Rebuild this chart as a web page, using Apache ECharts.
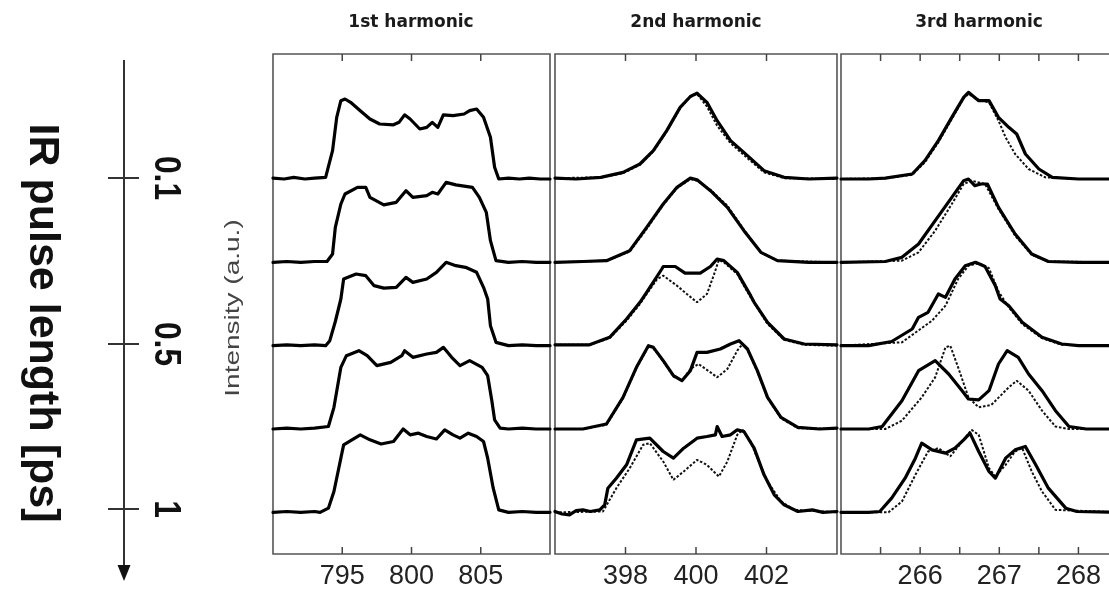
<!DOCTYPE html>
<html><head><meta charset="utf-8">
<script src="https://cdn.jsdelivr.net/npm/echarts@6/dist/echarts.min.js"></script>
<style>html,body{margin:0;padding:0;background:#fff}#c{width:1109px;height:590px}</style>
</head><body><div id="c"></div>
<script>
// ---- data: [wavelength nm, normalized intensity] ----
const H1_T1 = [[790,0.01],[790.8,0.0],[791.5,0.02],[792.3,0.0],[793,0.01],[793.8,0.02],[794.3,0.34],[794.6,0.74],[794.9,0.94],[795.2,0.96],[795.6,0.92],[796.3,0.82],[797.0,0.72],[797.7,0.66],[798.7,0.65],[799.1,0.68],[799.5,0.77],[799.9,0.72],[800.6,0.6],[801.1,0.62],[801.5,0.68],[801.9,0.62],[802.3,0.77],[803.0,0.76],[803.8,0.78],[804.2,0.82],[804.7,0.84],[805.2,0.74],[805.7,0.5],[806.0,0.14],[806.3,0.0],[807,0.01],[807.8,0.0],[808.5,0.01],[809.3,0.0],[810,0.0]];
const H1_T2 = [[790,0],[791,0.01],[792,0],[793,0.01],[793.9,0.01],[794.3,0.1],[794.5,0.42],[794.9,0.7],[795.2,0.82],[796.1,0.9],[796.7,0.9],[797.0,0.78],[798.0,0.69],[798.9,0.72],[799.6,0.86],[800.1,0.78],[801.1,0.8],[801.5,0.84],[801.9,0.82],[802.5,0.96],[803.2,0.93],[804.4,0.9],[804.9,0.78],[805.4,0.6],[805.7,0.26],[806.1,0.02],[807,0],[808,0.01],[809,0],[810,0]];
const H1_T3 = [[790,0],[791,0.01],[792,0],[793,0.01],[793.8,0],[794.1,0.06],[794.5,0.29],[794.9,0.56],[795.1,0.8],[796.0,0.86],[796.7,0.84],[797.3,0.72],[798.0,0.69],[798.9,0.7],[799.6,0.82],[800.1,0.76],[801.1,0.8],[801.8,0.88],[802.5,1.0],[803.2,0.96],[803.9,0.94],[804.7,0.88],[805.2,0.7],[805.5,0.56],[805.7,0.24],[806.1,0.04],[807,0],[808,0.01],[809,0],[810,0]];
const H1_T4 = [[790,0],[791,0.01],[792,0],[793,0.01],[794.0,0.03],[794.4,0.26],[794.9,0.74],[795.3,0.88],[796.2,0.94],[796.8,0.88],[797.5,0.76],[798.5,0.8],[799.3,0.88],[799.5,0.94],[800.1,0.86],[801.1,0.9],[801.8,0.92],[802.3,0.98],[802.9,0.86],[803.5,0.76],[804.2,0.82],[805.1,0.74],[805.5,0.64],[805.8,0.34],[806.0,0.11],[806.4,0.01],[807,0],[808,0.01],[809,0],[810,0]];
const H1_T5 = [[790,0],[791,0.01],[792,0],[793,0.01],[793.4,0],[794.0,0.05],[794.4,0.25],[794.9,0.65],[795.1,0.81],[795.7,0.87],[796.3,0.93],[797.0,0.87],[797.8,0.82],[798.7,0.85],[799.4,1.0],[799.9,0.93],[800.5,0.95],[801.1,0.91],[801.8,0.88],[802.4,0.99],[803.0,0.93],[803.5,0.89],[804.1,0.95],[804.7,0.91],[805.2,0.85],[805.5,0.65],[805.9,0.29],[806.3,0.03],[807,0],[808,0.01],[809,0],[810,0]];

const H2_T1_M = [[396,0.01],[396.6,0],[397.3,0.02],[397.93,0.08],[398.41,0.18],[398.79,0.34],[399.17,0.58],[399.55,0.86],[399.84,0.99],[400.03,1.03],[400.31,0.92],[400.6,0.7],[400.98,0.46],[401.46,0.28],[401.93,0.1],[402.5,0.02],[403.2,0],[404,0.01]];
const H2_T1_S = [[396,0.01],[397.3,0.02],[397.93,0.07],[398.41,0.17],[398.79,0.33],[399.17,0.57],[399.55,0.85],[399.84,0.99],[400.03,1.02],[400.31,0.87],[400.6,0.64],[400.98,0.43],[401.46,0.25],[401.93,0.08],[402.5,0.01],[404,0]];
const H2_T2_M = [[396,0],[396.8,0.01],[397.46,0.02],[398.12,0.14],[398.6,0.42],[399.07,0.7],[399.46,0.9],[399.84,1.01],[400.03,0.99],[400.41,0.86],[400.89,0.66],[401.36,0.38],[401.84,0.12],[402.31,0.02],[403.2,0],[404,0]];
const H2_T2_S = [[396,0],[397.46,0.02],[398.12,0.13],[398.6,0.4],[399.07,0.69],[399.46,0.89],[399.84,1.0],[400.03,0.98],[400.41,0.87],[400.89,0.68],[401.36,0.39],[401.84,0.12],[402.31,0.02],[404,0]];
const H2_T3_M = [[396,0.01],[396.98,0.01],[397.55,0.1],[398.03,0.32],[398.41,0.52],[398.6,0.64],[399.03,0.92],[399.07,0.95],[399.41,0.95],[399.69,0.87],[400.12,0.87],[400.41,0.95],[400.6,1.04],[400.79,1.02],[401.17,0.88],[401.55,0.6],[401.65,0.52],[402.03,0.28],[402.5,0.08],[403.07,0.02],[404,0.01]];
const H2_T3_S = [[396,0.01],[396.98,0.01],[397.55,0.09],[398.03,0.3],[398.41,0.5],[398.6,0.62],[398.9,0.8],[399.07,0.84],[399.46,0.72],[399.74,0.62],[400.03,0.52],[400.31,0.62],[400.5,0.84],[400.65,1.03],[400.79,1.0],[401.17,0.86],[401.55,0.58],[402.03,0.26],[402.5,0.07],[403.07,0.01],[404,0]];
const H2_T4_M = [[396,0],[396.79,0],[397.46,0.06],[397.93,0.38],[398.31,0.74],[398.65,1.0],[398.79,0.98],[399.07,0.82],[399.36,0.64],[399.6,0.58],[399.84,0.7],[400.03,0.92],[400.31,0.92],[400.69,0.96],[400.98,1.02],[401.22,1.06],[401.46,0.96],[401.74,0.7],[402.03,0.38],[402.41,0.14],[402.89,0.02],[403.5,0],[404,0.01]];
const H2_T4_S = [[396,0],[396.79,0],[397.46,0.05],[397.93,0.37],[398.31,0.73],[398.65,0.99],[398.79,0.97],[399.07,0.81],[399.36,0.63],[399.6,0.58],[399.84,0.72],[400.07,0.78],[400.41,0.68],[400.6,0.62],[400.89,0.72],[401.17,0.94],[401.32,1.02],[401.46,0.95],[401.74,0.69],[402.03,0.37],[402.41,0.13],[402.89,0.01],[404,0]];
const H2_T5_M = [[396,0.01],[396.2,-0.02],[396.41,-0.03],[396.6,0.02],[396.79,0.03],[397.0,0.01],[397.27,0.03],[397.41,0.09],[397.5,0.29],[397.74,0.41],[398.03,0.57],[398.31,0.87],[398.69,0.89],[399.07,0.73],[399.36,0.65],[399.65,0.77],[400.03,0.89],[400.31,0.91],[400.55,0.93],[400.6,1.03],[400.74,0.91],[400.98,0.93],[401.17,0.99],[401.36,0.97],[401.65,0.77],[401.93,0.45],[402.22,0.21],[402.5,0.09],[402.89,0.01],[403.3,0.03],[403.6,0],[404,0.01]];
const H2_T5_S = [[396,0],[397.36,0.01],[397.74,0.29],[398.12,0.53],[398.5,0.81],[398.69,0.83],[399.07,0.61],[399.36,0.39],[399.65,0.49],[400.03,0.63],[400.31,0.57],[400.65,0.43],[400.89,0.61],[401.17,0.93],[401.32,0.99],[401.55,0.85],[401.74,0.65],[402.03,0.37],[402.41,0.13],[402.79,0.03],[404,0]];

const H3_T1_M = [[265,0],[265.35,0],[265.56,0.01],[265.9,0.06],[266.06,0.22],[266.23,0.46],[266.4,0.74],[266.55,0.98],[266.61,1.04],[266.74,0.94],[266.87,0.94],[266.99,0.74],[267.12,0.62],[267.22,0.54],[267.33,0.3],[267.5,0.12],[267.67,0.02],[268,0],[268.5,0]];
const H3_T1_S = [[265,0],[265.56,0.01],[265.9,0.05],[266.06,0.2],[266.23,0.44],[266.4,0.72],[266.55,0.97],[266.61,1.02],[266.74,0.95],[266.87,0.92],[266.99,0.7],[267.08,0.5],[267.2,0.3],[267.37,0.12],[267.58,0.02],[268,0],[268.5,0]];
const H3_T2_M = [[265,0],[265.56,0.01],[265.77,0.06],[265.98,0.22],[266.19,0.5],[266.4,0.78],[266.55,0.98],[266.61,1.0],[266.69,0.92],[266.77,0.94],[266.85,0.94],[266.99,0.66],[267.2,0.34],[267.41,0.1],[267.62,0.01],[268,0],[268.5,0]];
const H3_T2_S = [[265,0],[265.77,0.02],[265.98,0.12],[266.19,0.38],[266.4,0.7],[266.55,0.94],[266.65,0.98],[266.82,0.94],[266.99,0.64],[267.2,0.32],[267.41,0.09],[267.62,0.01],[268.5,0]];
const H3_T3_M = [[265,0],[265.35,0],[265.64,0.05],[265.9,0.2],[265.98,0.34],[266.1,0.4],[266.23,0.62],[266.32,0.58],[266.44,0.8],[266.57,0.96],[266.7,1.0],[266.82,0.95],[266.95,0.72],[267.01,0.56],[267.12,0.48],[267.29,0.28],[267.54,0.1],[267.79,0.02],[268,0],[268.5,0]];
const H3_T3_S = [[265,0],[265.77,0.04],[266.15,0.3],[266.32,0.48],[266.48,0.8],[266.61,0.96],[266.74,0.99],[266.87,0.93],[266.99,0.65],[267.12,0.46],[267.29,0.26],[267.54,0.09],[267.79,0.01],[268.5,0]];
const H3_T4_M = [[265,0],[265.35,0],[265.52,0.03],[265.77,0.34],[265.98,0.7],[266.19,0.82],[266.36,0.66],[266.53,0.46],[266.61,0.36],[266.74,0.35],[266.87,0.46],[266.99,0.78],[267.1,0.94],[267.24,0.86],[267.37,0.66],[267.54,0.46],[267.71,0.22],[267.88,0.03],[268.1,0],[268.5,0]];
const H3_T4_S = [[265,0],[265.56,0],[265.77,0.1],[266.02,0.38],[266.19,0.62],[266.32,0.98],[266.38,1.0],[266.48,0.74],[266.61,0.38],[266.74,0.26],[266.9,0.29],[267.12,0.5],[267.22,0.58],[267.37,0.46],[267.54,0.22],[267.71,0.03],[267.88,0],[268.5,0]];
const H3_T5_M = [[265,0],[265.35,0],[265.49,0.01],[265.64,0.17],[265.81,0.41],[265.94,0.65],[266.02,0.83],[266.15,0.75],[266.32,0.71],[266.44,0.77],[266.55,0.87],[266.63,0.95],[266.74,0.73],[266.87,0.49],[266.95,0.41],[267.08,0.65],[267.2,0.75],[267.33,0.79],[267.46,0.57],[267.62,0.29],[267.84,0.05],[267.98,0.01],[268.5,0]];
const H3_T5_S = [[265,0],[265.6,0],[265.77,0.13],[265.94,0.45],[266.1,0.73],[266.23,0.77],[266.38,0.67],[266.48,0.79],[266.65,0.99],[266.74,0.93],[266.87,0.53],[266.95,0.43],[267.08,0.57],[267.2,0.73],[267.29,0.77],[267.41,0.49],[267.54,0.25],[267.71,0.03],[268.5,0]];

const TITLES = ['1st harmonic', '2nd harmonic', '3rd harmonic'];
const X_RANGES = [[790, 810], [396, 404], [265, 268.5]];
const X_INTERVALS = [5, 2, 0.5];
const X_TICKS = [[795, 800, 805], [398, 400, 402], [265.5, 266, 266.5, 267, 267.5, 268]];
const X_LABELS = [[795, 800, 805], [398, 400, 402], [266, 267, 268]];
const PULSE_LABELS = ['0.1', '0.5', '1'];
const AXIS_TITLE = 'IR pulse length [ps]';
const Y_TITLE = 'Intensity (a.u.)';

const MEAS = [[H1_T1, H1_T2, H1_T3, H1_T4, H1_T5],
              [H2_T1_M, H2_T2_M, H2_T3_M, H2_T4_M, H2_T5_M],
              [H3_T1_M, H3_T2_M, H3_T3_M, H3_T4_M, H3_T5_M]];
const SIM = [null,
             [H2_T1_S, H2_T2_S, H2_T3_S, H2_T4_S, H2_T5_S],
             [H3_T1_S, H3_T2_S, H3_T3_S, H3_T4_S, H3_T5_S]];

// ---- layout / style ----
const OFFSETS = [4.5, 3.5, 2.5, 1.5, 0.5];
const Y_MAX = 6;
const GRIDS = [{left: 273, width: 277}, {left: 555, width: 282}, {left: 841, width: 277}];
const TOP = 54, BOTTOM = 36;
const FRAME = {color: '#555', width: 1.6};
const TICK_LEN = 7;

const chart = echarts.init(document.getElementById('c'), null, {renderer: 'canvas'});
const grid = [], xAxis = [], yAxis = [], series = [];
GRIDS.forEach((g, p) => {
  grid.push({left: g.left, width: g.width, top: TOP, bottom: BOTTOM, show: true,
    borderColor: FRAME.color, borderWidth: FRAME.width, backgroundColor: 'transparent',
    containLabel: false, outerBoundsMode: 'none'});
  const fmt = v => X_LABELS[p].some(l => Math.abs(l - v) < 1e-6) ? String(Math.round(v)) : '';
  xAxis.push({type: 'value', gridIndex: p, min: X_RANGES[p][0], max: X_RANGES[p][1], interval: X_INTERVALS[p],
    position: 'bottom', axisLine: {show: false}, splitLine: {show: false}, axisTick: {show: false},
    axisLabel: {formatter: fmt, interval: 0, hideOverlap: false, margin: 9,
      fontFamily: 'Liberation Sans', fontSize: 27, color: '#222'}});
  yAxis.push({type: 'value', gridIndex: p, min: 0, max: Y_MAX, show: false});
  // inward tick marks at top and bottom edges, placed through the axis scales
  series.push({type: 'custom', xAxisIndex: p, yAxisIndex: p, silent: true, clip: false,
    data: X_TICKS[p].map(v => [v]),
    renderItem: (params, api) => {
      const b = api.coord([api.value(0), 0]);
      const t = api.coord([api.value(0), Y_MAX]);
      const st = {stroke: '#444', lineWidth: 1.5};
      return {type: 'group', children: [
        {type: 'line', shape: {x1: b[0], y1: b[1], x2: b[0], y2: b[1] - TICK_LEN}, style: st},
        {type: 'line', shape: {x1: t[0], y1: t[1], x2: t[0], y2: t[1] + TICK_LEN}, style: st}]};
    }});
  if (SIM[p]) SIM[p].forEach((arr, i) => {
    series.push({type: 'line', xAxisIndex: p, yAxisIndex: p, showSymbol: false, silent: true,
      data: arr.map(d => [d[0], d[1] + OFFSETS[i]]),
      lineStyle: {color: '#111', width: 2, type: [2.5, 1.8]}});
  });
  MEAS[p].forEach((arr, i) => {
    series.push({type: 'line', xAxisIndex: p, yAxisIndex: p, showSymbol: false, silent: true,
      data: arr.map(d => [d[0], d[1] + OFFSETS[i]]),
      lineStyle: {color: '#000', width: 3.2, join: 'round', cap: 'round'}});
  });
});

const graphic = [];
const titleCenters = [411, 696, 979];
TITLES.forEach((t, p) => graphic.push({type: 'text', x: titleCenters[p], y: 23,
  style: {text: t, font: 'bold 17px "DejaVu Sans"', fill: '#1a1a1a', align: 'center', verticalAlign: 'middle'}}));
// left arrow axis
graphic.push({type: 'line', shape: {x1: 124, y1: 60, x2: 124, y2: 567}, style: {stroke: '#333', lineWidth: 2}});
graphic.push({type: 'polygon', shape: {points: [[117.5, 565], [130.5, 565], [124, 581]]}, style: {fill: '#111'}});
const TICK_Y = [178, 344, 509];
TICK_Y.forEach((y, i) => {
  graphic.push({type: 'line', shape: {x1: 108, y1: y, x2: 139, y2: y}, style: {stroke: '#333', lineWidth: 2}});
  graphic.push({type: 'text', x: 165, y: y, rotation: -Math.PI / 2, scaleX: 0.88,
    style: {text: PULSE_LABELS[i], font: 'bold 36px "Liberation Sans"', fill: '#111', align: 'center', verticalAlign: 'middle'}});
});
graphic.push({type: 'text', x: 42, y: 323, rotation: -Math.PI / 2,
  style: {text: AXIS_TITLE, font: 'bold 43px "Liberation Sans"', fill: '#111', align: 'center', verticalAlign: 'middle'}});
graphic.push({type: 'text', x: 233, y: 308, rotation: Math.PI / 2, scaleX: 1.4,
  style: {text: Y_TITLE, font: '20px "Liberation Sans"', fill: '#444', align: 'center', verticalAlign: 'middle'}});

chart.setOption({animation: false, backgroundColor: '#fff', grid, xAxis, yAxis, series, graphic});
</script></body></html>
